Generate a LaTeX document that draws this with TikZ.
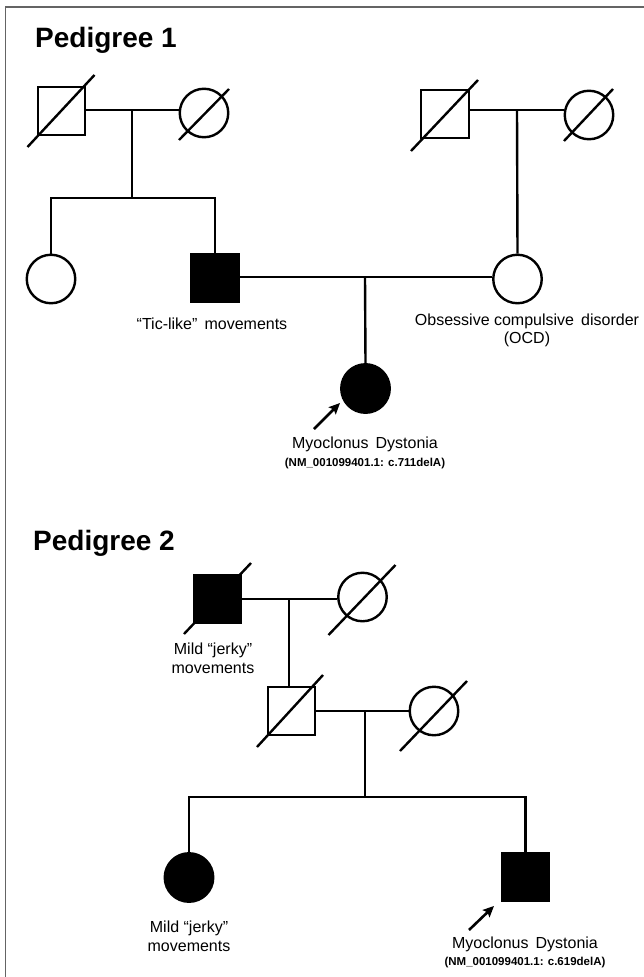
\documentclass[tikz,border=0pt]{standalone}
\usepackage{fontspec}
\setmainfont{Liberation Sans}
\usetikzlibrary{arrows.meta}
\definecolor{framegray}{RGB}{100,100,100}
\begin{document}
\begin{tikzpicture}[x=1pt,y=-1pt,
  ln/.style={line width=2.4pt},
  sq/.style={draw, line width=2.4pt, rectangle, minimum size=47.5pt, inner sep=0pt},
  ci/.style={draw, line width=2.4pt, circle, minimum size=48.5pt, inner sep=0pt},
  aff/.style={fill=black},
  lbl/.style={inner sep=0pt, anchor=base, font=\fontsize{16}{19}\selectfont},
  gene/.style={inner sep=0pt, anchor=base, font=\bfseries\fontsize{11.5}{13}\selectfont},
  ttl/.style={inner sep=0pt, anchor=base west, font=\bfseries\fontsize{28}{33}\selectfont},
  arr/.style={line width=2.6pt, -{Stealth[length=11pt,width=10pt,inset=2pt]}}
]
\useasboundingbox (0,0) rectangle (643,977);
% frame
\draw[framegray, line width=1.3pt] (5.5,980) -- (5.5,7) -- (646,7);

% ---------------- Pedigree 1 ----------------
\node[ttl] (title1) at (35,47) {Pedigree 1};

\node[sq] (p1gf1) at (61.5,111) {};
\node[ci] (p1gm1) at (204,113) {};
\node[sq] (p1gf2) at (445,114) {};
\node[ci] (p1gm2) at (589,115) {};
\node[ci] (p1sis) at (51,279) {};
\node[sq, aff] (p1fa) at (215,278) {};
\node[ci] (p1mo) at (517.5,279) {};
\node[ci, aff] (p1pro) at (365.5,388.5) {};

% deceased slashes
\draw[ln] ([shift={(-34,36)}]p1gf1.center) -- ([shift={(33,-36)}]p1gf1.center);
\draw[ln] ([shift={(-25,27)}]p1gm1.center) -- ([shift={(25,-24)}]p1gm1.center);
\draw[ln] ([shift={(-34,37)}]p1gf2.center) -- ([shift={(33,-34)}]p1gf2.center);
\draw[ln] ([shift={(-25,26)}]p1gm2.center) -- ([shift={(24,-26)}]p1gm2.center);

\coordinate (m1) at (132,110);
\coordinate (s1) at (132,198);
\coordinate (m2) at (517,110);
\coordinate (m3) at (365,277);

\draw[ln] (m1 -| p1gf1.east) -- (m1 -| p1gm1.west);
\draw[ln] (m1) -- (s1);
\draw[ln] (p1sis.north) |- (s1) -| (p1fa.north);
\draw[ln] (m2 -| p1gf2.east) -- (m2 -| p1gm2.west);
\draw[ln] (m2) -- (p1mo.north);
\draw[ln] (m3 -| p1fa.east) -- (m3 -| p1mo.west);
\draw[ln] (m3) -- (p1pro.north);

\coordinate (a1) at (314,429);
\draw[arr] (a1) -- ([shift={(-25.5,14.5)}]p1pro.center);

\node[lbl] (t1) at (212,329.5) {“Tic-like”\, movements};
\node[lbl] (t2a) at (527,325) {Obsessive compulsive\, disorder};
\node[lbl] (t2b) at (527,343) {(OCD)};
\node[lbl] (t3a) at (365,448) {Myoclonus\, Dystonia};
\node[gene] (t3b) at (365,466) {(NM\_001099401.1: c.711delA)};

% ---------------- Pedigree 2 ----------------
\node[ttl] (title2) at (33,550) {Pedigree 2};

\node[sq, aff] (p2gf) at (217.5,599) {};
\node[ci] (p2gm) at (362.5,597) {};
\node[sq] (p2fa) at (291.5,711) {};
\node[ci] (p2mo) at (434,711) {};
\node[ci, aff] (p2da) at (189,877.5) {};
\node[sq, aff] (p2pro) at (525.5,877) {};

\draw[ln] ([shift={(-33.5,35)}]p2gf.center) -- ([shift={(33.5,-36)}]p2gf.center);
\draw[ln] ([shift={(-34,38)}]p2gm.center) -- ([shift={(33,-32)}]p2gm.center);
\draw[ln] ([shift={(-34.5,36)}]p2fa.center) -- ([shift={(31.5,-36)}]p2fa.center);
\draw[ln] ([shift={(-34,40)}]p2mo.center) -- ([shift={(33,-30)}]p2mo.center);

\coordinate (m4) at (289,599);
\coordinate (m5) at (365,711);
\coordinate (s2) at (365,797);

\draw[ln] (m4 -| p2gf.east) -- (m4 -| p2gm.west);
\draw[ln] (m4) -- (m4 |- p2fa.north);
\draw[ln] (m5 -| p2fa.east) -- (m5 -| p2mo.west);
\draw[ln] (m5) -- (s2);
\draw[ln] (p2da.north) |- (s2) -| (p2pro.north);

\coordinate (a2) at (469,930);
\draw[arr] (a2) -- ([shift={(-31.5,29)}]p2pro.center);

\node[lbl] (t4a) at (213,654) {Mild “jerky”};
\node[lbl] (t4b) at (213,673) {movements};
\node[lbl] (t5a) at (189,932) {Mild “jerky”};
\node[lbl] (t5b) at (189,951.5) {movements};
\node[lbl] (t6a) at (525,948) {Myoclonus\, Dystonia};
\node[gene] (t6b) at (525,965) {(NM\_001099401.1: c.619delA)};
\end{tikzpicture}
\end{document}
